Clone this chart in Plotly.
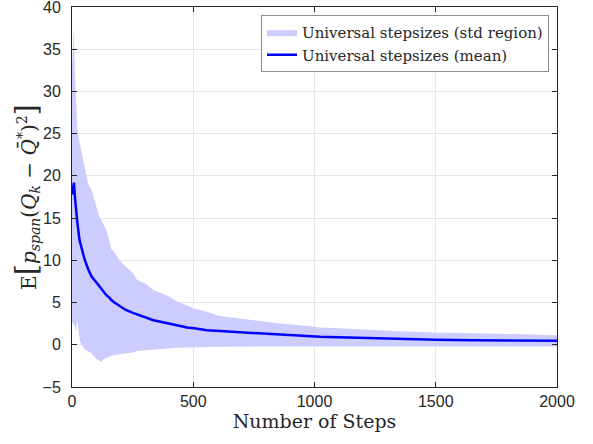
import plotly.graph_objects as go

steps = [0, 4, 8, 12, 16, 22, 31, 38, 52, 66, 80, 100, 114, 121, 132, 141, 155, 162, 175, 196,
         220, 251, 268, 306, 336, 394, 432, 474, 504, 556, 611, 680, 748, 850, 942, 1023, 1100,
         1200, 1350, 1500, 1650, 1800, 2000]
mean_vals = [17.8, 18.8, 19.2, 17.5, 16.0, 14.5, 12.4, 11.5, 10.1, 9.0, 8.1, 7.4, 6.9, 6.6, 6.2,
             5.9, 5.55, 5.3, 5.0, 4.56, 4.15, 3.78, 3.6, 3.2, 2.9, 2.55, 2.3, 2.05, 1.95, 1.73,
             1.62, 1.5, 1.4, 1.22, 1.05, 0.95, 0.88, 0.8, 0.68, 0.6, 0.55, 0.52, 0.47]
upper_vals = [33, 36, 37.5, 32, 29, 25.5, 24, 23, 21.1, 19.1, 18.4, 16.5, 15.0, 14.8, 14.2, 13.6,
              12.3, 11.3, 11.0, 10.0, 9.3, 8.5, 7.7, 7.2, 6.5, 5.8, 5.15, 4.7, 4.3, 3.9, 3.4,
              3.15, 2.9, 2.55, 2.3, 2.05, 1.95, 1.8, 1.6, 1.46, 1.35, 1.25, 1.14]
lower_vals = [2.6, 2.6, 2.5, 2.2, 1.5, 2.9, 0.7, 0.1, -0.5, -0.8, -1.0, -1.65, -1.9, -2.05, -1.65,
              -1.6, -1.4, -1.3, -1.2, -1.1, -1.0, -0.9, -0.75, -0.65, -0.55, -0.45, -0.35, -0.3,
              -0.28, -0.25, -0.22, -0.2, -0.18, -0.16, -0.15, -0.15, -0.15, -0.15, -0.17, -0.18,
              -0.19, -0.2, -0.2]

x_ticks = [0, 500, 1000, 1500, 2000]
y_ticks = [-5, 0, 5, 10, 15, 20, 25, 30, 35, 40]

fig = go.Figure()
fig.add_trace(go.Scatter(
    x=steps + steps[::-1],
    y=upper_vals + lower_vals[::-1],
    fill="toself",
    fillcolor="rgb(204,204,255)",
    line=dict(width=0, color="rgb(204,204,255)"),
    mode="lines",
    name="Universal stepsizes (std region)",
    legendgroup="a",
    hoverinfo="skip",
))
fig.add_trace(go.Scatter(
    x=steps, y=mean_vals, mode="lines",
    line=dict(color="#0000ff", width=2.5),
    name="Universal stepsizes (mean)",
    legendgroup="b",
))

axis_common = dict(
    showline=True, linecolor="#262626", linewidth=1, mirror="ticks",
    ticks="inside", ticklen=5, tickcolor="#262626",
    showgrid=True, gridcolor="#e6e6e6", gridwidth=1, zeroline=False,
    automargin=False, ticklabeloverflow="allow",
    tickfont=dict(family="Liberation Sans, Arial", size=16, color="#262626"),
)

ylabel = ("E<span style='font-size:29px'>[</span><i>p</i><sub><i>span</i></sub>"
          "(<i>Q</i><sub><i>k</i></sub> − <i>Q̄</i><sup>*</sup>)<sup>2</sup>"
          "<span style='font-size:29px'>]</span>")

fig.update_layout(
    width=593, height=444,
    margin=dict(l=72, r=36, t=7, b=57),
    paper_bgcolor="white", plot_bgcolor="white",
    showlegend=True,
    legend=dict(
        x=0.9835, xanchor="right", y=0.979, yanchor="top",
        bgcolor="white", bordercolor="#8c8c8c", borderwidth=1,
        font=dict(family="DejaVu Serif, serif", size=15, color="#262626"),
        tracegroupgap=0, itemwidth=30,
    ),
    xaxis=dict(
        range=[0, 2000], tickvals=x_ticks,
        title=dict(text="Number of Steps", standoff=4,
                   font=dict(family="DejaVu Serif, serif", size=19, color="#262626")),
        **axis_common,
    ),
    yaxis=dict(
        range=[-5, 40.001], tickvals=y_ticks, ticklabelstandoff=7,
        title=dict(text=ylabel, standoff=0,
                   font=dict(family="DejaVu Serif, serif", size=20, color="#262626")),
        **axis_common,
    ),
)

fig.write_html("out.html", config={"displayModeBar": False},
               post_script="document.body.style.margin='0px';")
